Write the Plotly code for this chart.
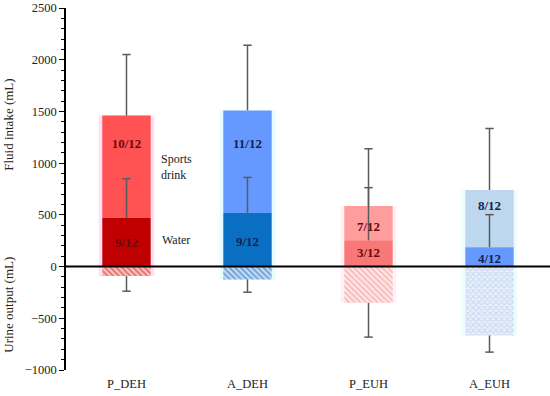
import plotly.graph_objects as go

groups = ["P_DEH", "A_DEH", "P_EUH", "A_EUH"]
water = [470, 520, 254, 188]
total = [1460, 1510, 585, 740]
water_err = [380, 342, 509, 314]
total_err = [590, 630, 554, 595]
urine = [-90, -125, -350, -666]
urine_err = [148, 123, 332, 161]
sports_frac = ["10/12", "11/12", "7/12", "8/12"]
water_frac = ["9/12", "9/12", "3/12", "4/12"]
sports_label_y = [1178, 1180, 380, 580]
water_label_y = [222, 228, 125, 68]

sports_colors = ["#ff5252", "#6699ff", "#ff9c9c", "#bdd7ee"]
water_colors = ["#c00000", "#0a6fc2", "#f87878", "#6699ff"]
glow_colors = ["#ffe0f2", "#e8fbff", "#fff0f5", "#effcff"]
urine_fg = ["#d0281a", "#1f6cc0", "#f28c8c", "#aac6ea"]
urine_bg = ["#ffcfcf", "#cfe3f7", "#ffeaea", "#eaf1fa"]
urine_shape = ["\\", "\\", "\\", "x"]
urine_solidity = [0.6, 0.55, 0.5, 0.5]
label_colors = ["#6e0a0a", "#13244d", "#6e0a0a", "#13244d"]

FONT = "Palatino Linotype, Book Antiqua, Liberation Serif, serif"
ERR_COLOR = "#5a5a5a"

sports_seg = [t - w for t, w in zip(total, water)]
glow_h = [t - u for t, u in zip(total, urine)]

fig = go.Figure()
fig.add_trace(go.Bar(x=groups, y=glow_h, base=urine, width=0.46,
                     marker=dict(color=glow_colors, line=dict(width=0)),
                     hoverinfo="skip", showlegend=False))
fig.add_trace(go.Bar(x=groups, y=sports_seg, base=water, width=0.4,
                     marker=dict(color=sports_colors, line=dict(width=0)),
                     name="Sports drink", showlegend=False))
fig.add_trace(go.Bar(x=groups, y=water, base=[0] * 4, width=0.4,
                     marker=dict(color=water_colors, line=dict(width=0)),
                     name="Water", showlegend=False))
for i, g in enumerate(groups):
    fig.add_trace(go.Bar(x=[g], y=[urine[i]], base=[0], width=0.4,
                         marker=dict(color=urine_bg[i], line=dict(width=0),
                                     pattern=dict(shape=urine_shape[i], fgcolor=urine_fg[i],
                                                  bgcolor=urine_bg[i], size=4,
                                                  solidity=urine_solidity[i],
                                                  fillmode="overlay")),
                         name="Urine", showlegend=False))

err_style = dict(type="data", symmetric=False, color=ERR_COLOR, thickness=1.5, width=0)
for yv, up, down in [(total, total_err, [0] * 4), (water, water_err, [0] * 4),
                     (urine, [0] * 4, urine_err)]:
    fig.add_trace(go.Scatter(x=groups, y=yv, mode="markers",
                             marker=dict(size=1, color="rgba(0,0,0,0)"),
                             error_y=dict(array=up, arrayminus=down, **err_style),
                             showlegend=False, hoverinfo="skip"))
    tips = [v + u - d for v, u, d in zip(yv, up, down)]
    fig.add_trace(go.Scatter(x=groups, y=tips, mode="markers",
                             marker=dict(symbol="line-ew-open", size=6, color=ERR_COLOR,
                                         line=dict(color=ERR_COLOR, width=1.5)),
                             showlegend=False, hoverinfo="skip"))

fig.add_trace(go.Scatter(x=groups, y=sports_label_y, mode="text", text=sports_frac,
                         textfont=dict(family=FONT, size=13, color=label_colors, weight="bold"),
                         showlegend=False, hoverinfo="skip"))
fig.add_trace(go.Scatter(x=groups, y=water_label_y, mode="text", text=water_frac,
                         textfont=dict(family=FONT, size=13, color=label_colors, weight="bold"),
                         showlegend=False, hoverinfo="skip"))

fig.add_annotation(x=0.27, y=965, xref="x", yref="y", text="Sports<br>drink",
                   showarrow=False, xanchor="left", align="left",
                   font=dict(family=FONT, size=12, color="#222"))
fig.add_annotation(x=0.28, y=260, xref="x", yref="y", text="Water",
                   showarrow=False, xanchor="left", align="left",
                   font=dict(family=FONT, size=12, color="#222"))

fig.add_annotation(x=-0.118, y=0.677, xref="paper", yref="paper", text="Fluid intake (mL)",
                   showarrow=False, textangle=-90, xanchor="center", yanchor="middle",
                   font=dict(family=FONT, size=13, color="#222"))
fig.add_annotation(x=-0.118, y=0.18, xref="paper", yref="paper", text="Urine output (mL)",
                   showarrow=False, textangle=-90, xanchor="center", yanchor="middle",
                   font=dict(family=FONT, size=13, color="#222"))

# zero reference line
fig.add_shape(type="line", xref="paper", yref="y", x0=0, x1=1, y0=0, y1=0,
              line=dict(color="black", width=2), layer="above")

fig.update_layout(
    width=550, height=396,
    margin=dict(l=66, r=0, t=8, b=26),
    barmode="overlay",
    plot_bgcolor="white", paper_bgcolor="white",
    font=dict(family=FONT, size=12, color="#222"),
)
fig.update_xaxes(range=[-0.5, 3.5], showline=False, ticks="", showgrid=False,
                 zeroline=False, ticklabelstandoff=4, automargin=False,
                 tickfont=dict(family=FONT, size=12.5, color="#222"))
fig.update_yaxes(range=[-1000, 2500], dtick=500, showline=True, linecolor="black",
                 linewidth=1.5, ticks="outside", ticklen=5, tickwidth=1.2, tickcolor="black",
                 minor=dict(dtick=100, ticks="outside", ticklen=3, tickcolor="black", tickwidth=1),
                 showgrid=False, zeroline=False, ticklabeloverflow="allow", automargin=False,
                 tickfont=dict(family=FONT, size=12.5, color="#222"))

fig.write_html("out.html", config={"displayModeBar": False},
               post_script="document.body.style.margin='0';")
